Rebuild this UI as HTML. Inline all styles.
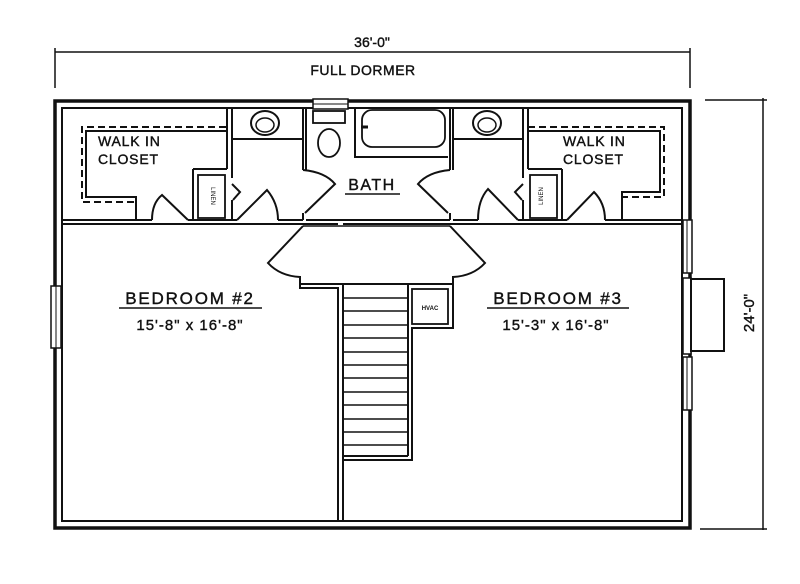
<!DOCTYPE html>
<html><head><meta charset="utf-8"><style>
html,body{margin:0;padding:0;background:#fff;}
svg{display:block;}
text{font-family:"Liberation Sans",sans-serif;fill:#111;}
</style></head><body>
<svg width="800" height="584" viewBox="0 0 800 584" xmlns="http://www.w3.org/2000/svg">
<g stroke="#111" fill="none" stroke-width="2">
<line x1="55" y1="52" x2="690" y2="52" stroke-width="1.5"/>
<line x1="55" y1="48" x2="55" y2="88" stroke-width="1.5"/>
<line x1="690" y1="48" x2="690" y2="88" stroke-width="1.5"/>
<line x1="763" y1="98" x2="763" y2="530" stroke-width="1.5"/>
<line x1="705" y1="100" x2="767" y2="100" stroke-width="1.5"/>
<line x1="700" y1="529" x2="767" y2="529" stroke-width="1.5"/>
<rect x="55" y="101" width="635" height="427" stroke-width="3.5"/>
<rect x="62" y="108" width="620" height="413" stroke-width="2"/>
<rect x="51" y="286" width="10" height="62" fill="#fff" stroke-width="1.5"/>
<line x1="56" y1="286" x2="56" y2="348" stroke-width="1"/>
<rect x="683" y="220" width="9" height="53" fill="#fff" stroke-width="1.5"/>
<line x1="687" y1="220" x2="687" y2="273" stroke-width="1"/>
<rect x="683" y="357" width="9" height="53" fill="#fff" stroke-width="1.5"/>
<line x1="687" y1="357" x2="687" y2="410" stroke-width="1"/>
<rect x="683" y="278" width="8" height="76" fill="#fff" stroke-width="1.5"/>
<rect x="691" y="279" width="33" height="72" stroke-width="2"/>
<rect x="313" y="99" width="35" height="10" fill="#fff" stroke-width="1.5"/>
<line x1="313" y1="104" x2="348" y2="104" stroke-width="1"/>
<line x1="62" y1="220" x2="152" y2="220"/>
<line x1="62" y1="224" x2="338" y2="224"/>
<line x1="188" y1="220" x2="237" y2="220"/>
<line x1="278" y1="220" x2="303" y2="220"/>
<line x1="306" y1="220" x2="450" y2="220"/>
<line x1="453" y1="220" x2="478" y2="220"/>
<line x1="518" y1="220" x2="567" y2="220"/>
<line x1="605" y1="220" x2="682" y2="220"/>
<line x1="343" y1="224" x2="682" y2="224"/>
<line x1="227" y1="108" x2="227" y2="169"/>
<line x1="232" y1="108" x2="232" y2="178"/>
<line x1="193" y1="169" x2="227" y2="169"/>
<line x1="193" y1="169" x2="193" y2="220"/>
<rect x="198" y="175" width="27" height="43" stroke-width="1.8"/>
<line x1="232" y1="200" x2="232" y2="220"/>
<line x1="528" y1="108" x2="528" y2="169"/>
<line x1="523" y1="108" x2="523" y2="178"/>
<line x1="528" y1="169" x2="562" y2="169"/>
<line x1="562" y1="169" x2="562" y2="220"/>
<rect x="530" y="175" width="27" height="43" stroke-width="1.8"/>
<line x1="523" y1="200" x2="523" y2="220"/>
<polyline points="232,184 240,192 233,200"/>
<polyline points="523,184 515,192 522,200"/>
<line x1="232" y1="139" x2="303" y2="139"/>
<line x1="453" y1="139" x2="523" y2="139"/>
<ellipse cx="265" cy="123" rx="14" ry="12"/>
<ellipse cx="265" cy="125" rx="9" ry="7" stroke-width="1.5"/>
<ellipse cx="487" cy="123" rx="14" ry="12"/>
<ellipse cx="487" cy="125" rx="9" ry="7" stroke-width="1.5"/>
<line x1="303" y1="108" x2="303" y2="170"/>
<line x1="306" y1="108" x2="306" y2="170"/>
<line x1="303" y1="213" x2="303" y2="220"/>
<line x1="450" y1="108" x2="450" y2="170"/>
<line x1="453" y1="108" x2="453" y2="170"/>
<line x1="450" y1="213" x2="450" y2="220"/>
<rect x="313" y="111" width="32" height="12" stroke-width="1.8"/>
<ellipse cx="329" cy="143" rx="11" ry="14" stroke-width="1.8"/>
<polyline points="355,108 355,157 448,157"/>
<rect x="362" y="110" width="83" height="37" rx="10" stroke-width="1.8"/>
<line x1="361" y1="127" x2="368" y2="127" stroke-width="3"/>
<path d="M152,220 Q152,203 162,195 L188,220"/>
<path d="M237,220 L267,190 Q278,203 278,220"/>
<path d="M303,170 Q325,172 335,184 L305,213"/>
<path d="M450,170 Q428,172 418,184 L448,213"/>
<path d="M478,220 Q478,200 488,189 L518,220"/>
<path d="M567,220 L594,192 Q605,203 605,220"/>
<polyline points="226,127 82,127 82,202 135,202" stroke-dasharray="7,4"/>
<polyline points="226,131 86,131 86,197 136,197 136,220"/>
<polyline points="528,127 664,127 664,197 622,197" stroke-dasharray="7,4"/>
<polyline points="528,131 660,131 660,192 622,192 622,220"/>
<path d="M303,226 L268,263 Q280,276 300,277 L300,288 L338,288 L338,521"/>
<path d="M450,226 L485,263 Q473,276 453,277 L453,328 L412,328 L412,460 L343,460 L343,521"/>
<polyline points="343,460 343,284 410,284"/>
<line x1="408" y1="284" x2="408" y2="456"/>
<line x1="343" y1="456" x2="408" y2="456"/>
<rect x="412" y="289" width="36" height="35" stroke-width="1.8"/>
<line x1="300" y1="284" x2="343" y2="284"/>
<line x1="410" y1="284" x2="453" y2="284"/>
<line x1="303" y1="226" x2="450" y2="226" stroke-width="1.5"/>
<g stroke-width="1.6">
<line x1="343" y1="298" x2="408" y2="298"/>
<line x1="343" y1="311" x2="408" y2="311"/>
<line x1="343" y1="325" x2="408" y2="325"/>
<line x1="343" y1="338" x2="408" y2="338"/>
<line x1="343" y1="352" x2="408" y2="352"/>
<line x1="343" y1="365" x2="408" y2="365"/>
<line x1="343" y1="378" x2="408" y2="378"/>
<line x1="343" y1="392" x2="408" y2="392"/>
<line x1="343" y1="405" x2="408" y2="405"/>
<line x1="343" y1="419" x2="408" y2="419"/>
<line x1="343" y1="432" x2="408" y2="432"/>
<line x1="343" y1="445" x2="408" y2="445"/>
</g>
<line x1="345" y1="194" x2="400" y2="194" stroke-width="1.5"/>
<line x1="119" y1="308" x2="262" y2="308" stroke-width="1.5"/>
<line x1="487" y1="308" x2="629" y2="308" stroke-width="1.5"/>
</g>
<g stroke="#111" stroke-width="0.4">
<text x="372" y="47" font-size="14" text-anchor="middle">36'-0"</text>
<text x="363" y="75" font-size="14" text-anchor="middle" letter-spacing="0.5">FULL DORMER</text>
<text x="754" y="313" font-size="15" text-anchor="middle" transform="rotate(-90 754 313)">24'-0"</text>
<text x="98" y="146" font-size="14" letter-spacing="0.8">WALK IN</text>
<text x="98" y="164" font-size="14" letter-spacing="0.8">CLOSET</text>
<text x="563" y="146" font-size="14" letter-spacing="0.8">WALK IN</text>
<text x="563" y="164" font-size="14" letter-spacing="0.8">CLOSET</text>
<text x="372" y="190" font-size="16" text-anchor="middle" letter-spacing="1.5">BATH</text>
<text x="190" y="304" font-size="17" text-anchor="middle" letter-spacing="1.8">BEDROOM #2</text>
<text x="190" y="330" font-size="15" text-anchor="middle" letter-spacing="1">15'-8" x 16'-8"</text>
<text x="558" y="304" font-size="17" text-anchor="middle" letter-spacing="1.8">BEDROOM #3</text>
<text x="556" y="330" font-size="15" text-anchor="middle" letter-spacing="1">15'-3" x 16'-8"</text>
</g>
<text x="430" y="310" font-size="6" text-anchor="middle" font-weight="bold">HVAC</text>
<text x="211" y="196" font-size="6" text-anchor="middle" transform="rotate(90 211 196)">LINEN</text>
<text x="543" y="196" font-size="6" text-anchor="middle" transform="rotate(-90 543 196)">LINEN</text>
</svg>
</body></html>
